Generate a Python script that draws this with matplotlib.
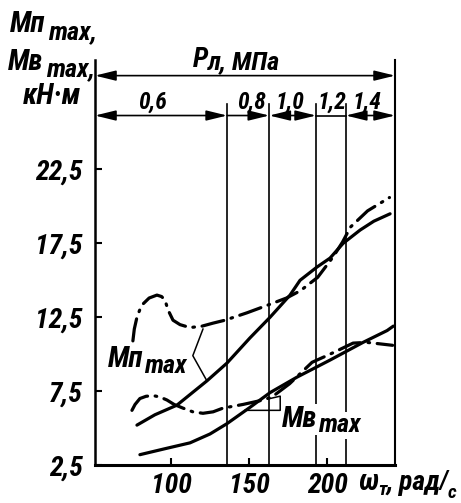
"""Mп max and Mв max against ωт with pressure bands along the top."""
import matplotlib
matplotlib.use("Agg")
import matplotlib.pyplot as plt

plt.rcParams["font.family"] = ["Roboto Condensed", "DejaVu Sans"]
plt.rcParams["font.style"] = "italic"
plt.rcParams["font.weight"] = "bold"

# Mп max, dash-dot curve
mp_dd_w = [75.6, 76.5, 78.2, 80.0, 82.1, 86.0, 91.0, 94.0, 96.2, 98.1, 101.3, 105.8,
           112.2, 120.0, 126.9, 134.6, 148.7, 161.5, 174.0, 183.0, 194.0, 204.0,
           210.0, 215.0, 226.0, 240.0]
mp_dd_m = [10.9, 11.7, 12.5, 13.0, 13.4, 13.8, 14.0, 13.9, 13.65, 13.0, 12.3, 12.0,
           11.8, 11.9, 12.1, 12.3, 12.8, 13.3, 13.8, 14.3, 15.2, 16.6,
           17.6, 18.6, 19.7, 20.6]
# Mп max, solid curve
mp_w = [78.2, 89.7, 103.8, 123.1, 135.9, 150.6, 163.5, 176.3, 182.7, 193.6, 201.9,
        210.3, 221.2, 230.0, 240.4]
mp_m = [5.2, 5.9, 6.55, 8.2, 9.4, 11.1, 12.5, 14.0, 15.0, 15.9, 16.5,
        17.5, 18.4, 19.0, 19.5]
# Mв max, dash-dot curve
mv_dd_w = [75.0, 77.0, 80.1, 84.0, 88.5, 93.0, 97.4, 102.0, 107.7, 114.0, 120.5, 127.0,
           133.3, 146.2, 159.0, 164.7, 176.0, 190.4, 201.9, 216.7, 225.6, 242.0]
mv_dd_m = [6.2, 6.6, 7.0, 7.15, 7.2, 7.1, 6.9, 6.6, 6.35, 6.1, 6.0, 6.1,
           6.35, 6.6, 6.9, 7.1, 8.0, 9.45, 10.0, 10.75, 10.8, 10.6]
# Mв max, solid curve
mv_w = [80.1, 96.0, 112.2, 125.0, 135.9, 150.6, 163.5, 180.8, 201.9, 223.1, 238.5, 242.5]
mv_m = [3.2, 3.6, 4.0, 4.6, 5.3, 6.4, 7.4, 8.45, 9.6, 10.8, 11.6, 11.9]

# pressure bands Pл, MPa
p_edges = [51.3, 136, 163, 193, 212, 243.6]
p_labels = ["0,6", "0,8", "1,0", "1,2", "1,4"]

y_ticks = [2.5, 7.5, 12.5, 17.5, 22.5]
y_tick_labels = ["2,5", "7,5", "12,5", "17,5", "22,5"]
x_ticks = [100, 150, 200]
x_tick_labels = ["100", "150", "200"]

fig = plt.figure(figsize=(4.61, 5.03), dpi=100)
ax = fig.add_axes([0.206, 0.0755, 0.651, 0.805])
ax.set_xlim(51.3, 243.6)
ax.set_ylim(2.5, 29.9)

dd = (0, (7, 2.4, 0.5, 2.4))
ax.plot(mp_dd_w, mp_dd_m, color="k", lw=2.3, ls=dd, dash_capstyle="round")
ax.plot(mp_w, mp_m, color="k", lw=2.3, solid_capstyle="round")
ax.plot(mv_dd_w, mv_dd_m, color="k", lw=2.3, ls=dd, dash_capstyle="round")
ax.plot(mv_w, mv_m, color="k", lw=2.3, solid_capstyle="round")

# band boundaries
for xb in p_edges[1:-1]:
    ax.plot([xb, xb], [2.5, 26.9], color="k", lw=1.2)

# top dimension arrows
arr = dict(arrowstyle="<|-|>,head_length=0.9,head_width=0.22", color="k",
           lw=1.2, shrinkA=0, shrinkB=0, mutation_scale=14)
ax.annotate("", xy=(p_edges[-1], 28.85), xytext=(p_edges[0], 28.85), arrowprops=arr)
t = ax.text(114.0, 29.45, "Р", fontsize=20, ha="left", va="baseline")
ax.annotate("л, МПа", xy=(1, 0), xycoords=t, xytext=(0, -1), textcoords="offset points",
            fontsize=19, ha="left", va="bottom")

y_row = 26.15
ax.annotate("", xy=(p_edges[1], y_row), xytext=(p_edges[0], y_row), arrowprops=arr)
one = dict(arr, arrowstyle="-|>,head_length=0.9,head_width=0.22")
ax.annotate("", xy=(p_edges[2], y_row), xytext=(p_edges[1], y_row), arrowprops=one)
ax.annotate("", xy=(p_edges[3], y_row), xytext=(p_edges[2], y_row), arrowprops=arr)
ax.plot([p_edges[3], p_edges[4]], [y_row, y_row], color="k", lw=1.2)
ax.annotate("", xy=(p_edges[5], y_row), xytext=(p_edges[4], y_row), arrowprops=arr)
for lab, xc in zip(p_labels, [88.5, 151.9, 176.3, 203.2, 225.6]):
    ax.text(xc, 26.6, lab, fontsize=17, ha="center", va="baseline")

# curve labels and leaders
ax.plot([120.5, 114.0, 123.0], [11.7, 9.9, 8.2], color="k", lw=1.1)
t = ax.text(59.6, 9.1, "Мп", fontsize=21, ha="left", va="baseline")
ax.annotate("max", xy=(1, 0), xycoords=t, xytext=(0.5, -3), textcoords="offset points",
            fontsize=19, ha="left", va="bottom")
ax.plot([147.4, 170.0, 170.0, 163.5], [6.2, 6.2, 7.16, 7.0], color="k", lw=1.1)
t = ax.text(171.2, 5.07, "Мв", fontsize=21, ha="left", va="baseline",
            bbox=dict(fc="white", ec="none", pad=1))
ax.annotate("max", xy=(1, 0), xycoords=t, xytext=(0.5, -3), textcoords="offset points",
            fontsize=19, ha="left", va="bottom",
            bbox=dict(fc="white", ec="none", pad=1))

# axes frame and ticks
ax.spines["top"].set_visible(False)
ax.spines["left"].set_linewidth(1.8)
ax.spines["right"].set_linewidth(1.5)
ax.spines["bottom"].set_linewidth(2.2)
ax.set_yticks(y_ticks, y_tick_labels, fontsize=20)
ax.set_xticks(x_ticks, x_tick_labels, fontsize=20)
ax.tick_params(direction="in", length=5, width=1.5, pad=9)
ax.tick_params(axis="x", pad=5)

# x axis name
t = ax.text(219.9, 0.8, "ω", fontsize=21, ha="left", va="baseline")
t = ax.annotate("т", xy=(1, 0), xycoords=t, xytext=(0, -2), textcoords="offset points",
                fontsize=14, ha="left", va="bottom")
t = ax.annotate(", рад", xy=(1, 0), xycoords=t, xytext=(0, 2), textcoords="offset points",
                fontsize=20, ha="left", va="bottom")
t = ax.annotate("/", xy=(1, 0), xycoords=t, xytext=(-1, 2), textcoords="offset points",
                fontsize=18, ha="left", va="bottom")
ax.annotate("с", xy=(1, 0), xycoords=t, xytext=(0, -6), textcoords="offset points",
            fontsize=14, ha="left", va="bottom")

# y axis name, top left
fig.text(10 / 461, 1 - 32 / 503, "Мп", fontsize=21, ha="left", va="baseline")
fig.text(48 / 461, 1 - 39 / 503, "max,", fontsize=19, ha="left", va="baseline")
fig.text(8 / 461, 1 - 70 / 503, "Мв", fontsize=21, ha="left", va="baseline")
fig.text(46 / 461, 1 - 76 / 503, "max,", fontsize=19, ha="left", va="baseline")
fig.text(23 / 461, 1 - 104 / 503, "кН·м", fontsize=21, ha="left", va="baseline")

fig.savefig("out.png", dpi=100)
